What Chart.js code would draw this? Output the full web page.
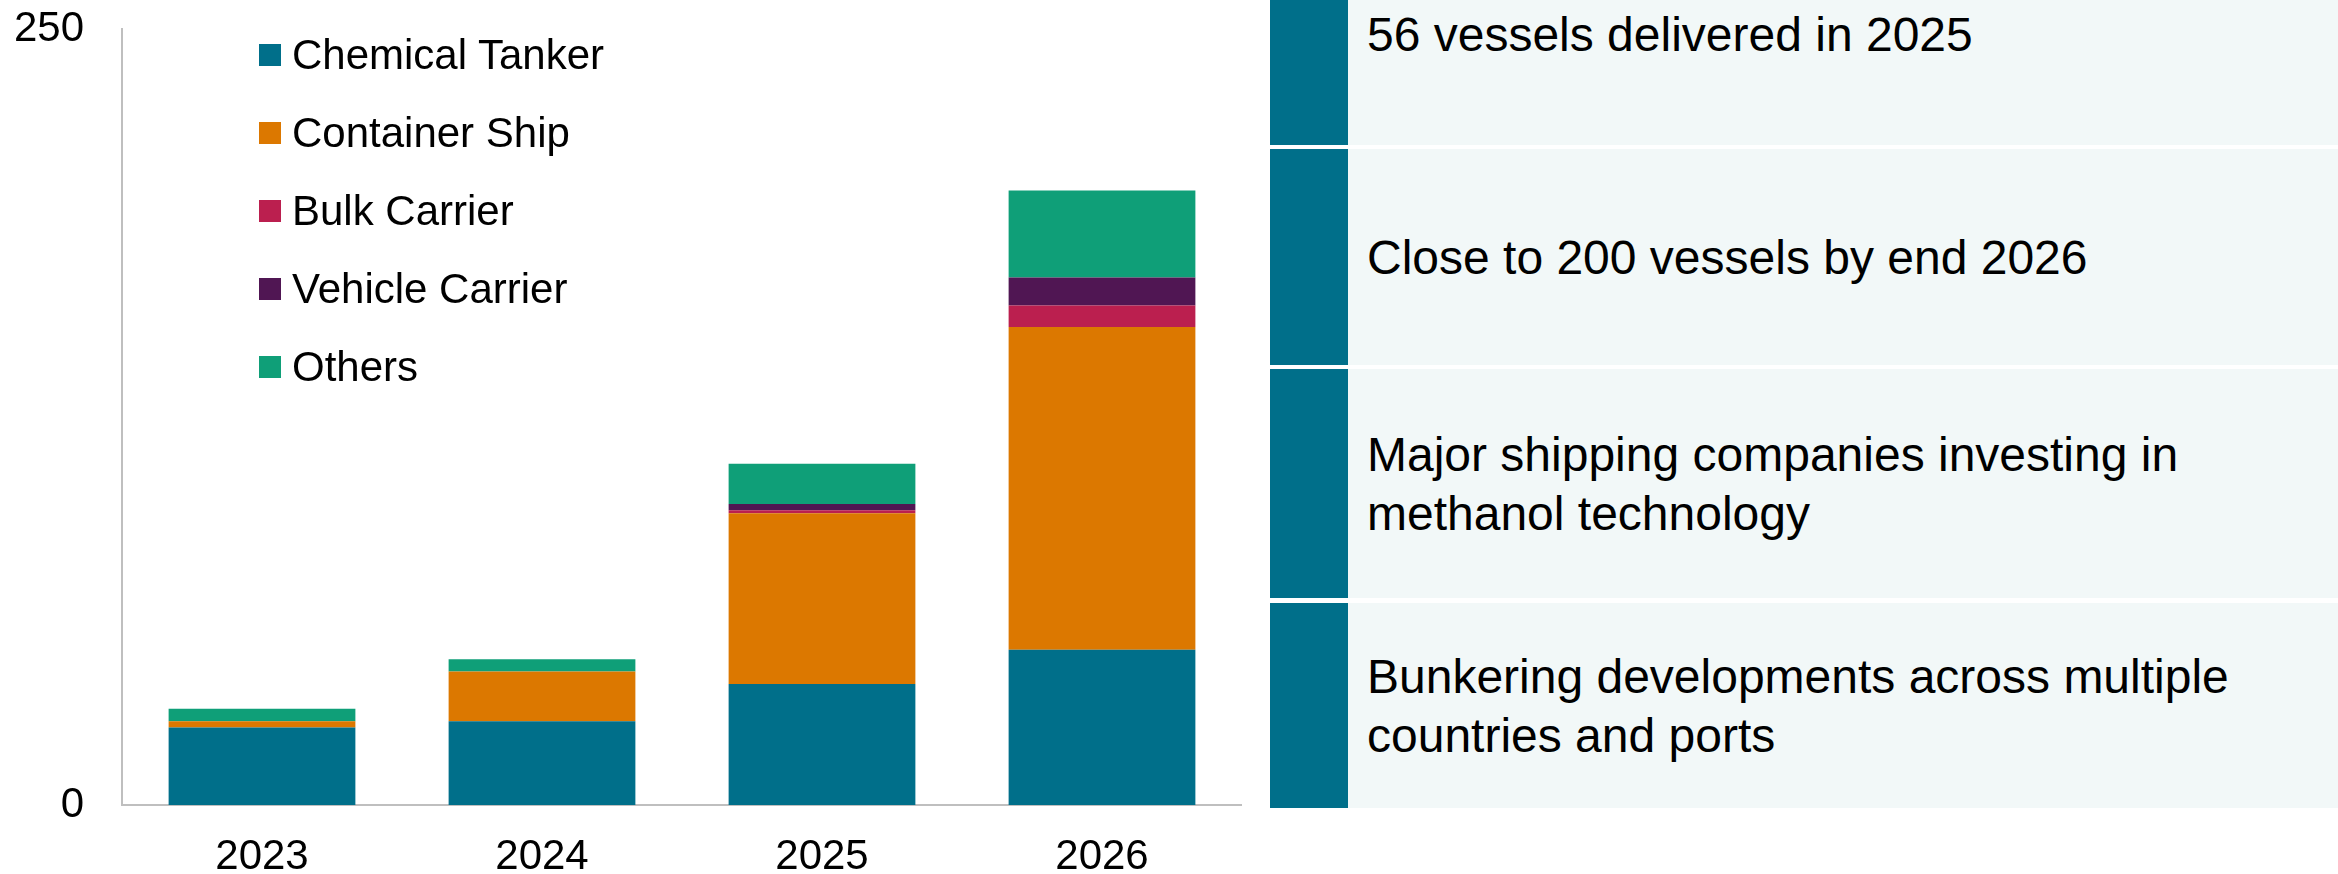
<!DOCTYPE html>
<html>
<head>
<meta charset="utf-8">
<script src="https://cdn.jsdelivr.net/npm/chart.js@4"></script>
<style>
    html, body {
        margin: 0;
        padding: 0;
        background: #ffffff;
        width: 2338px;
        height: 874px;
        overflow: hidden;
        font-family: 'Liberation Sans', Arial, sans-serif;
        color: #000000;
    }
    /* canvas starts above the page so the plot top lands at y=29 */
    #chartWrap {
        position: absolute;
        left: 0;
        top: -34px;
        width: 1242px;
        height: 908px;
    }
    #legend {
        position: absolute;
        left: 259px;
        top: 16px;
        margin: 0;
        padding: 0;
        list-style: none;
    }
    #legend li {
        display: flex;
        align-items: center;
        height: 78px;
        font-size: 42px;
        white-space: nowrap;
    }
    #legend li span {
        display: inline-block;
        width: 22px;
        height: 22px;
        margin-right: 11px;
    }
    /* Key points panel on the right */
    .note {
        position: absolute;
        left: 1270px;
        width: 1068px;
        display: flex;
        background: #f2f8f8;
    }
    .note .bar {
        width: 78px;
        background: #006f8a;
        flex: none;
    }
    .note .txt {
        display: flex;
        align-items: center;
        padding-left: 19px;
        font-size: 48px;
        line-height: 59px;
    }
</style>
</head>
<body>
<div id="chartWrap"><canvas id="vesselChart"></canvas></div>
<ul id="legend"></ul>
<div id="notes"></div>

<script>
// Methanol-capable vessels by type and year (number of vessels)
const years = ['2023', '2024', '2025', '2026'];
const chemicalTanker = [25, 27, 39, 50];
const containerShip = [2, 16, 55, 104];
const bulkCarrier = [0, 0, 1, 7];
const vehicleCarrier = [0, 0, 2, 9];
const others = [4, 4, 13, 28];

const yTicks = [0, 250];

const notes = [
    '56 vessels delivered in 2025',
    'Close to 200 vessels by end 2026',
    'Major shipping companies investing in<br>methanol technology',
    'Bunkering developments across multiple<br>countries and ports'
];

// box extents on the right panel: [top, height]
const noteBoxes = [[-76, 221], [149, 216], [369, 229], [603, 205]];

const FONT = "'Liberation Sans', Arial, sans-serif";
Chart.defaults.font.family = FONT;
Chart.defaults.color = '#000000';

const datasets = [
    { label: 'Chemical Tanker', data: chemicalTanker, backgroundColor: '#006f8a' },
    { label: 'Container Ship', data: containerShip, backgroundColor: '#dc7800' },
    { label: 'Bulk Carrier', data: bulkCarrier, backgroundColor: '#bb1f4f' },
    { label: 'Vehicle Carrier', data: vehicleCarrier, backgroundColor: '#501653' },
    { label: 'Others', data: others, backgroundColor: '#0f9f78' }
];

const ctx = document.getElementById('vesselChart');
const chart = new Chart(ctx, {
    type: 'bar',
    data: {
        labels: years,
        datasets: datasets.map(d => ({
            ...d,
            borderWidth: 0,
            categoryPercentage: 1.0,
            barPercentage: 0.667
        }))
    },
    options: {
        responsive: true,
        maintainAspectRatio: false,
        animation: false,
        layout: { padding: { top: 29, right: 0, bottom: 0, left: 0 } },
        plugins: {
            legend: { display: false },
            tooltip: { enabled: false }
        },
        scales: {
            x: {
                stacked: true,
                grid: { display: false, drawTicks: false },
                border: { display: true, color: '#bfbfbf', width: 2 },
                ticks: { font: { size: 42 }, color: '#000000', padding: 27, maxRotation: 0 },
                afterFit: scale => { scale.height = 69; }
            },
            y: {
                stacked: true,
                min: yTicks[0],
                max: yTicks[yTicks.length - 1],
                grid: { display: false, drawTicks: false },
                border: { display: true, color: '#bfbfbf', width: 2 },
                ticks: { font: { size: 42 }, color: '#000000', padding: 38, stepSize: yTicks[1] - yTicks[0] },
                afterFit: scale => { scale.width = 122; }
            }
        }
    }
});

// vertical legend built from the chart's datasets
const legendEl = document.getElementById('legend');
chart.data.datasets.forEach(ds => {
    const li = document.createElement('li');
    li.innerHTML = '<span style="background:' + ds.backgroundColor + '"></span>' + ds.label;
    legendEl.appendChild(li);
});

const notesEl = document.getElementById('notes');
notes.forEach((text, i) => {
    const box = document.createElement('div');
    box.className = 'note';
    box.style.top = noteBoxes[i][0] + 'px';
    box.style.height = noteBoxes[i][1] + 'px';
    box.innerHTML = '<div class="bar"></div><div class="txt"><div>' + text + '</div></div>';
    notesEl.appendChild(box);
});
</script>
</body>
</html>
